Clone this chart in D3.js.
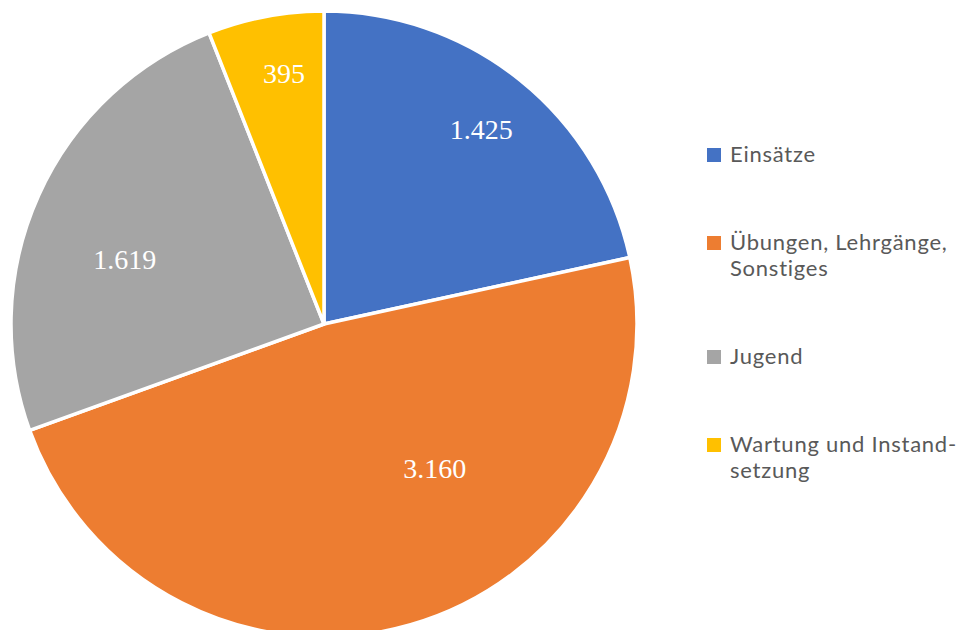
<!DOCTYPE html>
<html>
<head>
<meta charset="utf-8">
<script src="https://cdn.jsdelivr.net/npm/d3@7"></script>
<style>
  html, body { margin: 0; padding: 0; background: #fff; }
  svg { display: block; }
</style>
</head>
<body>
<svg id="viz" width="967" height="630"></svg>
<script>
const categories = ["Einsätze", "Übungen, Lehrgänge, Sonstiges", "Jugend", "Wartung und Instandsetzung"];
const legendLines = [["Einsätze"], ["Übungen, Lehrgänge,", "Sonstiges"], ["Jugend"], ["Wartung und Instand-", "setzung"]];
const values = [1425, 3160, 1619, 395];
const valueLabels = ["1.425", "3.160", "1.619", "395"];
const colors = ["#4472C4", "#ED7D31", "#A5A5A5", "#FFC000"];

// where each label sits inside its slice (share of the angle, share of the radius)
const labelAngleShare = [0.5, 0.375, 0.43, 0.58];
const labelRadiusShare = [0.8, 0.58, 0.67, 0.81];

const svg = d3.select("#viz");
const cx = 324, cy = 324, r = 313;

const pie = d3.pie().sort(null).value(d => d);
const arcs = pie(values);
const arc = d3.arc().innerRadius(0).outerRadius(r);

const g = svg.append("g").attr("transform", `translate(${cx},${cy})`);

g.selectAll("path.slice")
  .data(arcs).join("path")
  .attr("class", "slice")
  .attr("d", arc)
  .attr("fill", (d, i) => colors[i])
  .attr("stroke", "#fff")
  .attr("stroke-width", 3.5)
  .attr("stroke-linejoin", "round");

g.selectAll("text.val")
  .data(arcs).join("text")
  .attr("class", "val")
  .attr("transform", (d, i) => {
    const a = d.startAngle + (d.endAngle - d.startAngle) * labelAngleShare[i];
    const rr = r * labelRadiusShare[i];
    return `translate(${rr * Math.sin(a)},${-rr * Math.cos(a)})`;
  })
  .attr("text-anchor", "middle")
  .attr("dy", "0.35em")
  .attr("fill", "#fff")
  .style("font-family", "'Liberation Serif', serif")
  .style("font-size", "28px")
  .text((d, i) => valueLabels[i]);

// Legend
const legend = svg.append("g").attr("transform", "translate(707,0)");
const lineH = 26;
let y = 148;
legendLines.forEach((lines, i) => {
  const item = legend.append("g").attr("transform", `translate(0,${y})`);
  item.append("rect").attr("width", 14).attr("height", 14).attr("fill", colors[i]);
  const t = item.append("text")
    .attr("x", 23).attr("y", 14)
    .attr("fill", "#595959")
    .style("font-family", "Lato, 'Open Sans', sans-serif")
    .style("font-size", "22px")
    .style("letter-spacing", "0.75px");
  lines.forEach((l, j) => {
    t.append("tspan").attr("x", 23).attr("dy", j === 0 ? 0 : lineH).text(l);
  });
  y += 88 + (lines.length - 1) * lineH;
});
</script>
</body>
</html>
